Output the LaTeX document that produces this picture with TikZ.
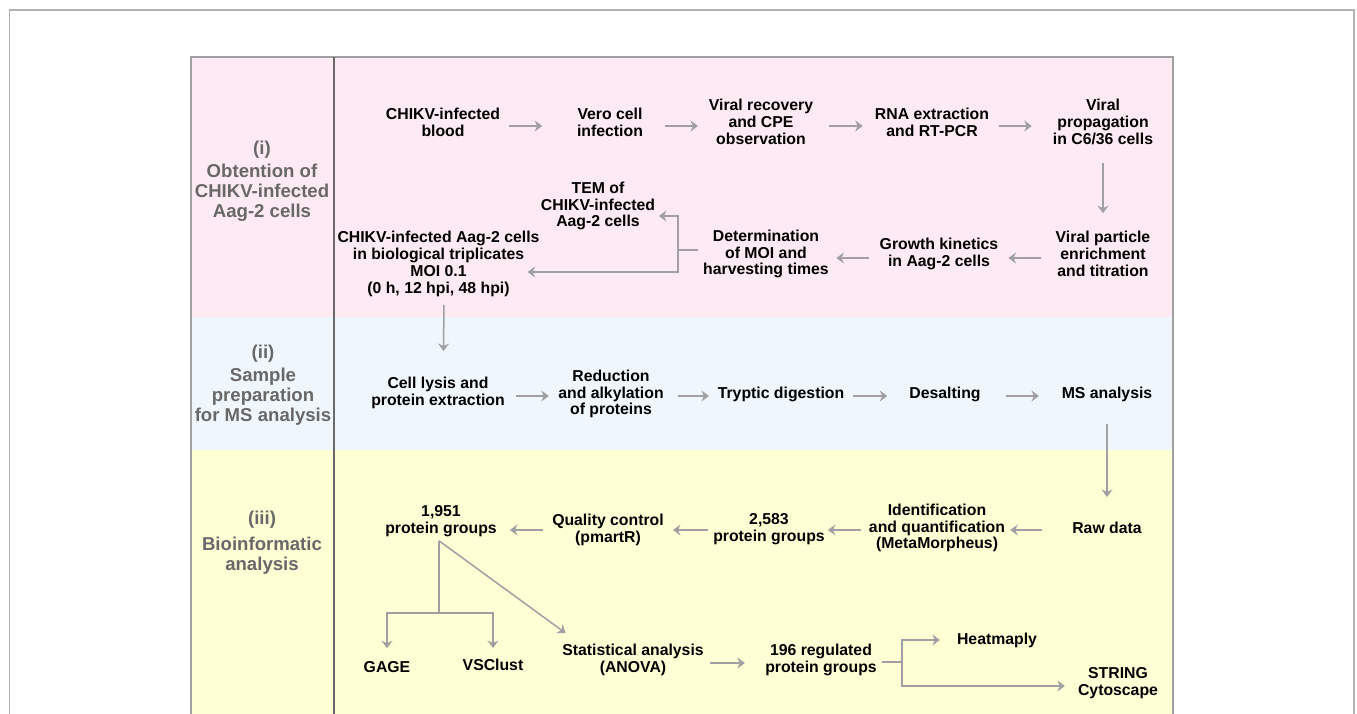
\documentclass[tikz,border=0pt]{standalone}
\usepackage{fontspec}
\setmainfont{Liberation Sans}
\usetikzlibrary{arrows.meta,calc}
\definecolor{bandpink}{RGB}{253,234,242}
\definecolor{bandblue}{RGB}{239,247,253}
\definecolor{bandyellow}{RGB}{255,255,214}
\definecolor{framegray}{RGB}{178,178,178}
\definecolor{boxgray}{RGB}{160,160,160}
\definecolor{divgray}{RGB}{105,105,105}
\definecolor{labelgray}{RGB}{104,104,104}
\definecolor{flowgray}{RGB}{160,160,162}
\begin{document}
\begin{tikzpicture}[x=1pt,y=-1pt,
  stage/.style={align=center, inner sep=0pt, font=\fontsize{15.8}{16.8}\selectfont\bfseries},
  phase/.style={align=center, inner sep=0pt, text=labelgray, font=\fontsize{18.6}{20}\selectfont\bfseries},
  flow/.style={draw=flowgray, line width=1.5pt, -{Stealth[length=7.5pt,width=11pt,inset=2.5pt]}},
  link/.style={draw=flowgray, line width=1.5pt}]
\useasboundingbox (0,0) rectangle (1357,714);
\clip (0,0) rectangle (1357,714);
\fill[white] (0,0) rectangle (1357,714);

% outer frame
\draw[framegray, line width=1.2pt] (9.5,730) -- (9.5,10) -- (1354,10) -- (1354,730);

% three phase bands
\fill[bandpink] (191,57) rectangle (1173,317);
\fill[bandblue] (191,317) rectangle (1173,450);
\fill[bandyellow] (191,450) rectangle (1173,730);
\draw[boxgray, line width=1.2pt] (191,730) -- (191,57) -- (1173,57) -- (1173,730);
\draw[divgray, line width=1.2pt] (334,57) -- (334,730);

% phase labels
\node[phase] (ph1) at (262,181) {(i)\\[3pt]Obtention of\\CHIKV-infected\\Aag-2 cells};
\node[phase] (ph2) at (263,385) {(ii)\\[3pt]Sample\\preparation\\for MS analysis};
\node[phase] (ph3) at (262,543) {(iii)\\[6pt]Bioinformatic\\analysis};

% (i) obtention of infected cells
\node[stage] (blood) at (443,122) {CHIKV-infected\\blood};
\node[stage] (vero) at (610,122) {Vero cell\\infection};
\node[stage] (recov) at (761,122) {Viral recovery\\and CPE\\observation};
\node[stage] (rna) at (932,122) {RNA extraction\\and RT-PCR};
\node[stage] (prop) at (1103,122) {Viral\\propagation\\in C6/36 cells};
\node[stage] (part) at (1103,254) {Viral particle\\enrichment\\and titration};
\node[stage] (growth) at (939,254) {Growth kinetics\\in Aag-2 cells};
\node[stage] (det) at (766,254) {Determination\\of MOI and\\harvesting times};
\node[stage] (tem) at (598,206) {TEM of\\CHIKV-infected\\Aag-2 cells};
\node[stage] (aag) at (438.5,264) {CHIKV-infected Aag-2 cells\\in biological triplicates\\MOI 0.1\\(0 h, 12 hpi, 48 hpi)};

\draw[flow] ($(blood.east)+(8.6,4)$) -- ($(vero.west)+(-34.7,4)$);
\draw[flow] ($(vero.east)+(21.7,4)$) -- ($(recov.west)+(-10.7,4)$);
\draw[flow] ($(recov.east)+(15.7,4)$) -- ($(rna.west)+(-12,4)$);
\draw[flow] ($(rna.east)+(10,4)$) -- ($(prop.west)+(-21,4)$);
\draw[flow] ($(prop.south)+(0,18)$) -- ($(part.north)+(0,-18)$);
\draw[flow] ($(part.west)+(-14.5,4)$) -- ($(growth.east)+(10,4)$);
\draw[flow] ($(growth.west)+(-11,4)$) -- ($(det.east)+(7.4,4)$);
\draw[link] ($(det.west)+(-5,-4)$) -- ($(det.west)+(-25,-4)$) coordinate (fork);
\draw[flow] (fork) |- ($(tem.east)+(3.6,10)$);
\draw[flow] (fork) |- ($(aag.east)+(-12,8)$);

% (ii) sample preparation
\node[stage] (cell) at (438,393) {Cell lysis and\\protein extraction};
\node[stage] (red) at (611,394) {Reduction\\and alkylation\\of proteins};
\node[stage] (tryp) at (781,394) {Tryptic digestion};
\node[stage] (desal) at (945,394) {Desalting};
\node[stage] (ms) at (1107,394) {MS analysis};

\draw[flow] ($(aag.south)+(5.5,8)$) -- ($(cell.north)+(5.5,-26)$);
\draw[flow] ($(cell.east)+(11.5,3)$) -- ($(red.west)+(-9.3,2)$);
\draw[flow] ($(red.east)+(14.3,2)$) -- ($(tryp.west)+(-8.6,2)$);
\draw[flow] ($(tryp.east)+(8.6,2)$) -- ($(desal.west)+(-22,2)$);
\draw[flow] ($(desal.east)+(25,2)$) -- ($(ms.west)+(-22.6,2)$);

% (iii) bioinformatic analysis
\node[stage] (raw) at (1107,528) {Raw data};
\node[stage] (ident) at (937,528) {Identification\\and quantification\\(MetaMorpheus)};
\node[stage] (pg2583) at (769,529) {2,583\\protein groups};
\node[stage] (qc) at (608,530) {Quality control\\(pmartR)};
\node[stage] (pg1951) at (441,521) {1,951\\protein groups};
\node[stage] (gage) at (387,667) {GAGE};
\node[stage] (vsc) at (493,665) {VSClust};
\node[stage] (stat) at (633,660) {Statistical analysis\\(ANOVA)};
\node[stage] (reg) at (821,660) {196 regulated\\protein groups};
\node[stage] (heat) at (997,640) {Heatmaply};
\node[stage] (string) at (1118,683) {STRING\\Cytoscape};

\draw[flow] ($(ms.south)+(0,22)$) -- ($(raw.north)+(0,-25)$);
\draw[flow] ($(raw.west)+(-30,2)$) -- ($(ident.east)+(5,2)$);
\draw[flow] ($(ident.west)+(-7.5,2)$) -- ($(pg2583.east)+(3,1)$);
\draw[flow] ($(pg2583.west)+(-5,1)$) -- ($(qc.east)+(9,0)$);
\draw[flow] ($(qc.west)+(-9.5,0)$) -- ($(pg1951.east)+(13,9)$);
\draw[link] ($(pg1951.south)+(-2,4)$) coordinate (stem) -- ++(0,72) coordinate (branch);
\draw[flow] (branch) -| ($(gage.north)+(0,-13)$);
\draw[flow] (branch) -| ($(vsc.north)+(0,-11)$);
\draw[flow] (stem) -- ($(stat.north west)+(3.4,-11)$);
\draw[flow] ($(stat.east)+(6.3,3)$) -- ($(reg.west)+(-20.2,3)$);
\draw[link] ($(reg.east)+(5,2)$) -- ++(20,0) coordinate (split);
\draw[flow] (split) |- ($(heat.west)+(-17,0)$);
\draw[flow] (split) |- ($(string.west)+(-13,3)$);
\end{tikzpicture}
\end{document}
